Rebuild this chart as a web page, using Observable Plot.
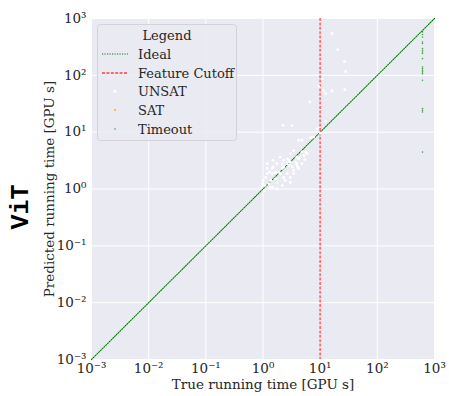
<!DOCTYPE html>
<html>
<head>
<meta charset="utf-8">
<script src="https://cdn.jsdelivr.net/npm/d3@7"></script>
<script src="https://cdn.jsdelivr.net/npm/@observablehq/plot@0.6"></script>
<style>
  html, body { margin: 0; padding: 0; background: #ffffff; }
  #chart { position: relative; width: 449px; height: 396px; }
  svg { font-family: "DejaVu Serif", serif; }
</style>
</head>
<body>
<div id="chart"></div>
<script>
// ---- data ----
const tickValues = [1e-3, 1e-2, 1e-1, 1e0, 1e1, 1e2, 1e3];
const idealX = [1e-3, 1e3];
const idealY = [1e-3, 1e3];
const cutoffX = 10;

const unsatX = [16.2, 20.3, 26.6, 27.9, 10.8, 9.5, 11.3, 12.6, 16, 27, 6.6, 12.4, 2.25, 3.24, 4.2, 4.8, 7.7, 8.9, 10.1, 6.8,
  1.18, 0.98, 1.07, 1.37, 2.18, 2.3, 2.65, 3.24, 3.45, 3.9, 4.5, 5.2, 5.6, 4.8, 3.0, 2.65, 2.3, 2.0, 1.75, 1.5,
  1.45, 1.18, 1.11, 1.37, 1.65, 1.88, 2.18, 2.85, 3.7, 4.2, 3.45, 1.5, 1.0, 1.26, 1.75, 2.45, 3.0, 3.45, 4.2, 4.8,
  5.9, 3.9, 2.85, 2.18, 1.45, 1.18, 1.07, 2.3, 2.65, 3.0, 2.0, 1.65, 1.75, 1.45, 3.0, 0.95, 1.3, 2.9, 5.4, 4.0];
const unsatY = [545, 284, 175, 116, 86, 64, 54, 47.6, 53, 56, 34, 15.7, 13.2, 13, 7.2, 7.2, 8.2, 11.5, 9.6, 8.0,
  2.78, 1.24, 0.94, 1.07, 1.15, 1.6, 1.86, 2.44, 2.13, 2.78, 3.63, 3.9, 4.5, 4.5, 4.2, 3.4, 3.2, 3.63, 2.78, 2.44,
  1.86, 1.86, 1.6, 1.41, 1.5, 1.97, 2.3, 2.6, 2.95, 3.4, 4.75, 3.2, 1.41, 1.24, 1.32, 1.41, 1.6, 1.86, 2.3, 2.78,
  4.2, 3.63, 3.2, 2.78, 2.3, 2.3, 1.15, 2.44, 2.78, 2.95, 1.86, 1.97, 1.0, 1.07, 1.3, 1.1, 2.0, 3.0, 3.3, 2.5];

const satX = [];
const satY = [];

const timeoutX = 617;
const timeoutY = [581, 523, 474, 387, 363, 296, 277, 258, 242, 197, 140, 131, 123, 115, 107, 82, 26, 24.2, 22.6, 4.46];

const legendLabels = ["Ideal", "Feature Cutoff", "UNSAT", "SAT", "Timeout"];

// ---- helpers ----
const supMap = {"-": "\u207B", "0": "\u2070", "1": "\u00B9", "2": "\u00B2", "3": "\u00B3"};
const fmt = d => "10" + String(Math.round(Math.log10(d))).split("").map(c => supMap[c]).join("");

const ideal = idealX.map((v, i) => ({x: v, y: idealY[i]}));
const unsat = unsatX.map((v, i) => ({x: v, y: unsatY[i]}));
const sat = satX.map((v, i) => ({x: v, y: satY[i]}));
const timeout = timeoutY.map(v => ({x: timeoutX, y: v}));

const textColor = "#262626";

const chart = Plot.plot({
  width: 449,
  height: 396,
  marginLeft: 91,
  marginRight: 15,
  marginTop: 18,
  marginBottom: 37,
  style: {fontFamily: "DejaVu Serif", fontSize: "13.5px", color: textColor, background: "transparent"},
  x: {type: "log", domain: [1e-3, 1e3]},
  y: {type: "log", domain: [1e-3, 1e3]},
  marks: [
    Plot.frame({fill: "#EAEAF2", stroke: null}),
    Plot.gridX(tickValues, {stroke: "white", strokeOpacity: 1, strokeWidth: 1}),
    Plot.gridY(tickValues, {stroke: "white", strokeOpacity: 1, strokeWidth: 1}),
    Plot.axisX({ticks: tickValues, tickFormat: fmt, tickSize: 0, tickPadding: 4, fontSize: 13.5,
      label: "True running time [GPU s]", labelAnchor: "center", labelArrow: "none", labelOffset: 29}),
    Plot.axisY({ticks: tickValues, tickFormat: fmt, tickSize: 0, tickPadding: 5, fontSize: 13.5,
      label: "Predicted running time [GPU s]", labelAnchor: "center", labelArrow: "none", labelOffset: 47}),
    Plot.line(ideal, {x: "x", y: "y", stroke: "green", strokeWidth: 1.1, strokeDasharray: "1.2,1.3"}),
    Plot.ruleX([cutoffX], {stroke: "red", strokeOpacity: 0.55, strokeWidth: 1.8, strokeDasharray: "3,1.4"}),
    Plot.dot(unsat, {x: "x", y: "y", r: 1.4, fill: "white", stroke: null}),
    Plot.dot(sat, {x: "x", y: "y", r: 0.9, fill: "orange", stroke: null}),
    Plot.dot(timeout, {x: "x", y: "y", r: 0.8, fill: "green", fillOpacity: 0.7, stroke: null})
  ]
});

document.getElementById("chart").appendChild(chart);

// ---- legend and side title ----
const svg = d3.select(chart);
const lg = svg.append("g").attr("font-family", "DejaVu Serif").attr("font-size", 13)
  .attr("fill", textColor).attr("text-anchor", "start");
lg.append("rect").attr("x", 97.5).attr("y", 24.5).attr("width", 139).attr("height", 116).attr("rx", 3)
  .attr("fill", "#EAEAF2").attr("fill-opacity", 0.85).attr("stroke", "#d2d2d8").attr("stroke-width", 1);
lg.append("text").attr("x", 167).attr("y", 35).attr("text-anchor", "middle").attr("dominant-baseline", "central").text("Legend");
const rowY = [54, 73, 91.5, 110, 129];
legendLabels.forEach((t, i) => {
  lg.append("text").attr("x", 138).attr("y", rowY[i]).attr("text-anchor", "start")
    .attr("dominant-baseline", "central").text(t);
});
lg.append("line").attr("x1", 102).attr("x2", 128).attr("y1", rowY[0]).attr("y2", rowY[0])
  .attr("stroke", "green").attr("stroke-width", 1.1).attr("stroke-dasharray", "1.2,1.3");
lg.append("line").attr("x1", 102).attr("x2", 128).attr("y1", rowY[1]).attr("y2", rowY[1])
  .attr("stroke", "red").attr("stroke-opacity", 0.55).attr("stroke-width", 1.8).attr("stroke-dasharray", "3,1.4");
lg.append("circle").attr("cx", 115).attr("cy", rowY[2]).attr("r", 1.4).attr("fill", "white");
lg.append("circle").attr("cx", 115).attr("cy", rowY[3]).attr("r", 0.9).attr("fill", "orange");
lg.append("circle").attr("cx", 115).attr("cy", rowY[4]).attr("r", 0.8).attr("fill", "green").attr("fill-opacity", 0.7);

svg.append("text")
  .attr("transform", "translate(21.5,207) rotate(-90)")
  .attr("text-anchor", "middle").attr("dominant-baseline", "central")
  .attr("font-family", "Liberation Mono").attr("font-weight", "bold").attr("font-size", 25)
  .attr("fill", "#000").text("ViT");
</script>
</body>
</html>
